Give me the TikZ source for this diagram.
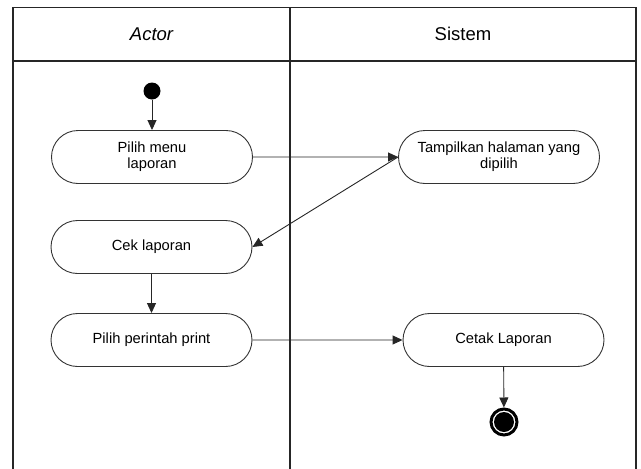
\documentclass[tikz,border=0pt]{standalone}
\usepackage{fontspec}
\setmainfont{Liberation Sans}
\usetikzlibrary{arrows.meta,shapes.misc}
\begin{document}
\begin{tikzpicture}[x=1pt,y=-1pt,
  lane/.style={line width=1.2pt,draw=black!85},
  head/.style={font=\fontsize{18.5}{22}\selectfont},
  act/.style={rounded rectangle,draw=black!80,line width=0.9pt,fill=white,
    minimum width=201pt,minimum height=53pt,inner sep=0pt,align=center,
    font=\fontsize{14.7}{16}\selectfont},
  flow/.style={draw=black!85,line width=0.9pt,-{Triangle[length=10pt,width=9pt]}},
  startdot/.style={circle,fill=black,minimum size=17pt,inner sep=0pt},
  enddot/.style={circle,draw=black,line width=3pt,fill=white,minimum size=26pt,
    inner sep=0pt,path picture={\fill[black] (path picture bounding box.center) circle (10pt);}}]
  \useasboundingbox (0,0) rectangle (641,469);
  % swimlane frame
  \draw[lane] (13,469) -- (13,7.5) -- (636,7.5) -- (636,469);
  \draw[lane] (13,61) -- (636,61);
  \draw[lane] (290,7.5) -- (290,469);
  \node[head] (hactor) at (151.5,34) {\itshape Actor};
  \node[head] (hsistem) at (463,34) {Sistem};
  % activities
  \node[startdot] (start) at (152,91) {};
  \node[act] (menu) at (152,157) {Pilih menu\\laporan};
  \node[act] (tampil) at (499,157) {Tampilkan halaman yang\\dipilih};
  \node[act] (cek) at (151.5,247) {Cek laporan};
  \node[act] (print) at (151.5,340) {Pilih perintah print};
  \node[act] (cetak) at (503.5,340) {Cetak Laporan};
  \node[enddot] (end) at (504,422) {};
  % control flow
  \draw[flow] (start) -- (menu);
  \draw[flow] (menu) -- (tampil);
  \draw[flow] (tampil.west) -- (cek.east);
  \draw[flow] (cek) -- (print);
  \draw[flow] (print) -- (cetak);
  \draw[flow] (cetak) -- (end);
\end{tikzpicture}
\end{document}
